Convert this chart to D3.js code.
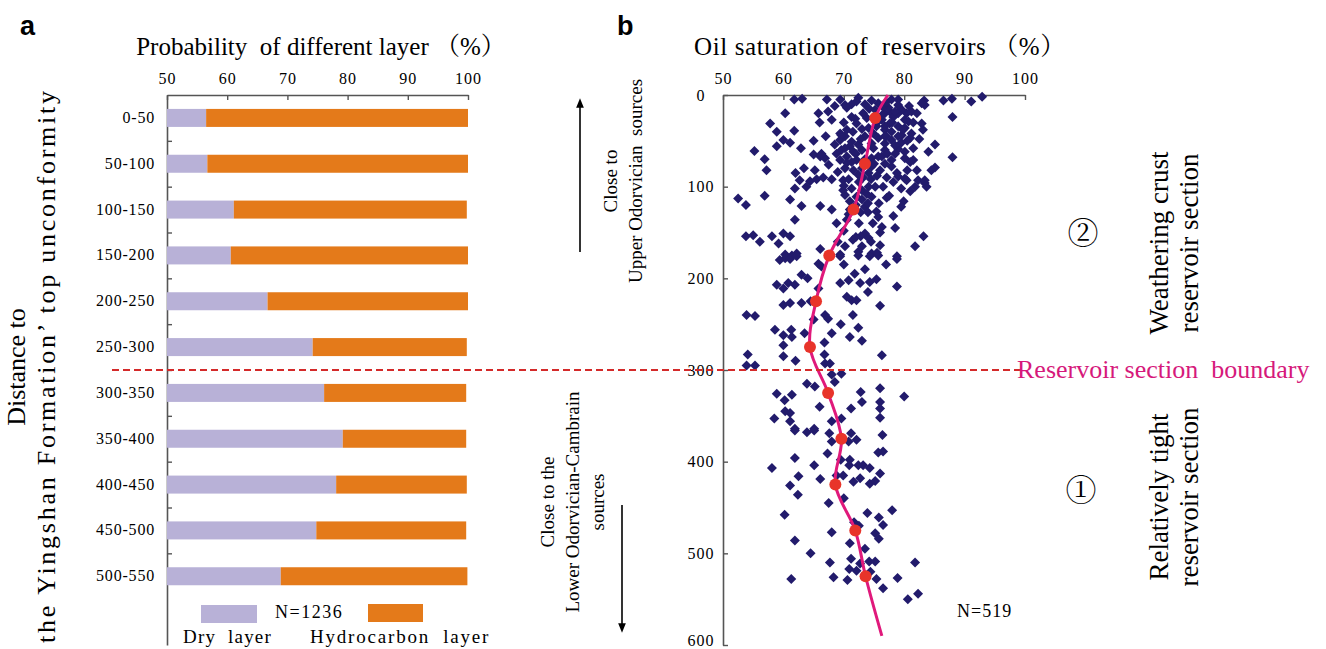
<html>
<head>
<meta charset="utf-8">
<title>Layer probability and oil saturation vs distance to unconformity</title>
<style>
  body { margin: 0; background: #fff; }
  text { font-family: 'Liberation Serif', 'Times New Roman', 'Noto Serif CJK SC', 'Noto Sans CJK SC', serif; white-space: pre; }
</style>
</head>
<body>
<script src="https://cdn.jsdelivr.net/npm/d3@7/dist/d3.min.js" charset="utf-8"></script>
<script>

// ---- panel a : dry / hydrocarbon layer probability per depth bin
var depthBins = ["0-50","50-100","100-150","150-200","200-250","250-300","300-350","350-400","400-450","450-500","500-550"];
var binMid    = [25,75,125,175,225,275,325,375,425,475,525];
var dryLayer  = [56.5,56.7,61.1,60.6,66.7,74.2,76.1,79.2,78.1,74.8,68.9];
var hcLayer   = [100,100,99.8,100,100,99.8,99.7,99.7,99.8,99.7,99.9];
var probTicks = [50,60,70,80,90,100];

// ---- panel b : oil saturation (%) vs depth (m)
var satTicks   = [50,60,70,80,90,100];
var depthTicks = [0,100,200,300,400,500,600];
var avgDepth = [25,75,125,175,225,275,325,375,425,475,525];
var avgSat   = [75.2,73.5,71.6,67.6,65.4,64.4,67.4,69.6,68.6,71.9,73.6];
var trendTop = [77.3,0];
var trendBottom = [76.3,590];

var satPoints = [
 [61.8,5],[63.1,4],[67.2,5],[69.4,5],[72.4,3],[74.6,6],[79.0,5],[83.3,6],[86.5,6],[87.9,4],[91.1,7],[92.9,2],
 [71.3,10],[73.5,10],[70.5,14],[83.4,11],[82.9,9],
 [60.3,20],[65.8,20],[67.4,18],[68.0,27],[76.8,20],[77.9,20],[79.0,20],[80.4,20],[81.2,18],[71.3,24],[88.0,24],
 [57.8,31],[71.9,26],[76.3,27],[77.6,31],[79.0,34],[76.8,34],[80.7,29],
 [58.9,40],[61.8,39],[73.0,37],[76.8,38],[80.1,36],[83.1,38],
 [60.0,49],[61.1,52],[65.0,50],[69.4,42],[70.2,45],[71.3,51],[72.4,54],[75.7,47],[77.9,49],[79.6,44],[81.0,47],[85.1,54],
 [55.2,61],[58.9,56],[62.9,58],[69.6,60],[71.6,62],[74.9,58],[76.8,60],[79.0,59],[80.1,62],
 [56.9,70],[65.0,65],[66.1,67],[66.9,69],[69.4,71],[72.1,71],[75.7,67],[77.9,71],[81.5,71],[88.0,68],
 [57.2,82],[62.0,85],[63.4,80],[70.2,80],[74.6,78],[76.0,82],[77.9,78],[82.1,82],[84.5,82],[85.1,79],
 [62.7,93],[64.4,94],[65.5,92],[66.6,90],[69.9,93],[73.2,90],[77.1,90],[79.0,89],[80.1,91],[82.3,93],[83.4,96],
 [61.9,102],[75.2,100],[81.8,100],[83.7,100],
 [52.5,113],[53.8,120],[56.9,110],[61.1,114],[70.2,109],[73.0,114],[74.6,111],[77.1,112],[79.9,116],
 [63.0,121],[66.1,121],[68.0,125],[73.5,122],[75.4,127],
 [61.9,136],[75.7,133],[78.2,132],[70.5,136],[76.3,144],[73.5,151],
 [53.8,154],[55.0,153],[56.1,160],[58.1,154],[59.2,162],[60.0,151],[61.1,154],[72.8,154],[74.1,156],[83.2,154],[76.0,164],[81.8,165],
 [66.1,168],[70.2,165],[72.4,171],[74.6,173],[60.3,174],[61.4,175],[62.2,173],[69.4,174],[78.8,176],[73.0,165],
 [70.2,11],[72.1,7],[75.7,9],[77.4,14],[79.6,16],[76.3,22],[78.2,24],[80.1,27],[75.4,34],[77.9,40],[79.0,45],[81.2,42],
 [73.5,45],[74.6,53],[76.8,53],[78.5,64],[76.3,67],[74.6,69],[71.3,73],[70.5,67],[74.1,85],[72.4,87],[71.6,82],
 [71.3,102],[69.9,104],[73.0,104],[72.1,111],[71.0,116],[74.1,100],[69.4,49],[68.5,54],[66.3,64],[80.1,69],[81.0,73],
 [80.4,93],[83.4,93],[82.9,31],[82.1,20],[77.9,5],[79.0,11],[76.5,13],[75.2,16],[73.2,20],[72.1,31],[74.1,36],[74.9,42],
 [70.5,38],[69.6,44],[78.0,30],[79.5,52],[77.0,45],[75.0,75],[73.0,60],[72.5,95],[70.8,92],[74.0,118],[72.8,128],
 [71.0,125],[76.5,100],[78.8,85],[80.5,50],[81.5,58],[77.2,64],[73.8,25],[71.0,56],[75.5,88],[70.0,99],[74.8,140],
 [68.5,12],[70.0,30],[71.5,40],[72.8,48],[74.2,15],[75.8,28],[76.8,45],[78.5,55],[79.8,38],[81.5,30],[80.8,12],
 [78.5,18],[77.0,8],[73.5,70],[72.0,64],[70.2,58],[68.8,64],[67.5,76],[69.0,84],[70.5,74],[73.0,80],[74.5,92],
 [76.8,75],[78.2,95],[79.5,102],[77.5,110],[75.8,118],[73.8,108],[72.0,120],[70.8,130],[72.5,140],[74.0,128],
 [76.0,150],[74.5,160],[71.5,158],[70.0,148],[68.8,140],[78.5,145],[80.5,82],[82.5,48],[84.0,62],[81.0,105],
 [79.5,122],[67.0,45],[66.0,30],[65.2,82],[63.8,100],[68.0,92],[72.0,155],[69.0,160],
 [59.4,180],[60.3,178],[61.1,179],[62.2,176],[65.8,184],[66.3,187],[69.4,176],[72.4,175],[74.3,176],[75.7,175],[78.8,179],
 [75.5,172],[77.0,185],[73.5,190],[71.8,195],[70.0,185],
 [63.0,196],[58.9,207],[60.0,211],[60.8,205],[61.9,207],[65.8,211],[69.4,205],[70.8,202],[72.7,205],[74.3,204],[75.4,201],[78.8,209],
 [60.0,229],[61.1,227],[63.0,227],[70.5,220],[71.3,224],[72.1,224],[76.0,230],[74.0,215],[64.0,200],[64.5,225],
 [53.9,240],[55.3,241],[66.9,240],[67.4,244],[71.5,240],[65.0,245],
 [58.6,256],[60.0,262],[61.3,256],[61.4,264],[68.0,260],[71.0,264],[72.4,254],[69.5,250],[63.5,260],
 [60.0,273],[54.1,283],[60.0,285],[66.8,283],[76.3,284],[73.0,268],[66.8,270],[62.0,290],
 [53.9,295],[55.3,295],[66.9,293],[67.7,293],[69.6,304],[68.0,305],[68.5,313],
 [63.9,315],[65.2,318],[58.9,326],[60.2,333],[61.4,327],[72.8,324],[76.0,320],[76.0,335],[76.0,342],[80.0,329],[71.2,342],[76.0,352],
 [60.3,345],[61.1,347],[58.5,353],[61.1,356],[68.0,356],[69.6,353],[61.9,364],[65.1,364],[66.0,340],[73.0,335],
 [61.9,366],[63.9,368],[65.1,366],[67.6,369],[68.0,378],[71.2,369],[72.1,376],[70.8,378],[76.4,371],[75.7,390],[76.5,389],
 [61.9,396],[67.3,391],[58.1,407],[65.1,404],[71.0,398],[70.9,404],[72.4,404],[73.2,404],[74.3,407],[76.0,413],[69.5,398],
 [62.5,416],[61.1,426],[66.1,419],[68.8,415],[69.9,415],[71.6,422],[72.7,418],[74.3,424],[75.2,421],[62.4,436],
 [70.0,440],[67.5,445],[60.2,458],[73.9,456],[75.8,461],[78.0,453],[76.5,469],[71.7,466],[72.5,470],
 [68.0,477],[75.2,478],[75.8,484],[61.9,486],[71.0,489],[73.5,495],[64.5,500],
 [67.7,510],[71.2,506],[72.7,511],[74.2,509],[75.2,509],[81.8,510],[70.9,517],[72.1,519],[74.4,520],
 [61.3,528],[68.3,526],[70.6,529],[75.4,528],[78.9,527],[76.5,538],[80.6,550],[82.3,544]
];

var width = 1326, height = 649;
var svg = d3.select("body").append("svg")
            .attr("width", width)
            .attr("height", height);

// shared depth scale (both panels line up on the 300 m boundary)
var yDepth = d3.scaleLinear().domain([0,600]).range([95,645]);

// ================= panel a =================
var xProb = d3.scaleLinear().domain([50,100]).range([167,468]);
var barH = 18;

var axA = svg.append("g").attr("transform","translate(0,95)")
             .call(d3.axisTop(xProb).tickValues(probTicks).tickSizeInner(-5).tickSizeOuter(0).tickPadding(11));
axA.selectAll("text").attr("font-size",16).attr("letter-spacing",1);

var ayA = svg.append("g").attr("transform","translate(167,0)")
             .call(d3.axisRight(yDepth).tickValues([50,100,150,200,250,300,350,400,450,500]).tickSize(5).tickSizeOuter(0).tickFormat(""));
[axA, ayA].forEach(function(g){
    g.select(".domain").attr("stroke","#555").attr("stroke-width",1.6);
    g.selectAll(".tick line").attr("stroke","#555").attr("stroke-width",1.4);
});

svg.selectAll(".dry").data(dryLayer).enter().append("rect")
   .attr("class","dry")
   .attr("x", xProb(50))
   .attr("y", function(d,i){ return yDepth(binMid[i]) - barH/2; })
   .attr("width", function(d){ return xProb(d) - xProb(50); })
   .attr("height", barH)
   .attr("fill","#b8b1d7");

svg.selectAll(".hc").data(hcLayer).enter().append("rect")
   .attr("class","hc")
   .attr("x", function(d,i){ return xProb(dryLayer[i]); })
   .attr("y", function(d,i){ return yDepth(binMid[i]) - barH/2; })
   .attr("width", function(d,i){ return xProb(d) - xProb(dryLayer[i]); })
   .attr("height", barH)
   .attr("fill","#e47a1a");

svg.selectAll(".binlab").data(depthBins).enter().append("text")
   .attr("class","binlab")
   .attr("x",155)
   .attr("y", function(d,i){ return yDepth(binMid[i]) + 5; })
   .attr("text-anchor","end")
   .attr("font-size",16)
   .attr("letter-spacing",0.8)
   .text(function(d){ return d; });

// legend
svg.append("rect").attr("x",201).attr("y",605).attr("width",56).attr("height",18).attr("fill","#b8b1d7");
svg.append("rect").attr("x",368).attr("y",604).attr("width",55).attr("height",18).attr("fill","#e47a1a");
svg.append("text").attr("x",275).attr("y",618).attr("font-size",18).attr("letter-spacing",1.5).text("N=1236");
svg.append("text").attr("x",183).attr("y",643).attr("font-size",19).attr("letter-spacing",1.2).text("Dry  layer");
svg.append("text").attr("x",310).attr("y",643).attr("font-size",19).attr("letter-spacing",1.8).text("Hydrocarbon  layer");

svg.append("text").attr("x",321).attr("y",55).attr("text-anchor","middle").attr("font-size",25)
   .text("Probability  of different layer （%）");

var ttlA = svg.append("text").attr("transform","translate(25,367) rotate(-90)")
              .attr("text-anchor","middle").attr("font-size",26);
ttlA.append("tspan").attr("x",0).attr("dy",0).text("Distance to");
ttlA.append("tspan").attr("x",0).attr("dy",30)
    .attr("textLength",552).attr("lengthAdjust","spacing")
    .text("the Yingshan Formation’ top unconformity");

svg.append("text").attr("x",20).attr("y",35).style("font-family","'Liberation Sans', Arial, sans-serif")
   .attr("font-weight","bold").attr("font-size",27).text("a");

// ================= middle annotations =================
svg.append("defs").append("marker").attr("id","ah").attr("viewBox","0 0 10 10")
   .attr("refX",5).attr("refY",5).attr("markerWidth",6).attr("markerHeight",8).attr("orient","auto")
   .append("path").attr("d","M0,1 L10,5 L0,9 Z").attr("fill","#000");
svg.append("line").attr("x1",580).attr("y1",252).attr("x2",580).attr("y2",103)
   .attr("stroke","#000").attr("stroke-width",1.6).attr("marker-end","url(#ah)");
svg.append("line").attr("x1",622).attr("y1",505).attr("x2",622).attr("y2",628)
   .attr("stroke","#000").attr("stroke-width",1.6).attr("marker-end","url(#ah)");

var upT = svg.append("text").attr("transform","translate(617,181) rotate(-90)")
             .attr("text-anchor","middle").attr("font-size",19);
upT.append("tspan").attr("x",0).attr("dy",0).text("Close to");
upT.append("tspan").attr("x",0).attr("dy",25).text("Upper Odorvician  sources");

var lowT = svg.append("text").attr("transform","translate(554,502) rotate(-90)")
              .attr("text-anchor","middle").attr("font-size",19);
lowT.append("tspan").attr("x",0).attr("dy",0).text("Close to the");
lowT.append("tspan").attr("x",0).attr("dy",25).text("Lower Odorvician-Cambrain");
lowT.append("tspan").attr("x",0).attr("dy",25).text("sources");

// ================= panel b =================
var xSat = d3.scaleLinear().domain([50,100]).range([723,1025]);

var axB = svg.append("g").attr("transform","translate(0,95)")
             .call(d3.axisTop(xSat).tickValues(satTicks).tickSizeInner(-5).tickSizeOuter(0).tickPadding(11));
axB.selectAll("text").attr("font-size",16).attr("letter-spacing",1);

var ayB = svg.append("g").attr("transform","translate(723,0)")
             .call(d3.axisLeft(yDepth).tickValues(depthTicks).tickSizeInner(-5).tickSizeOuter(0));
ayB.selectAll("text").attr("font-size",16).attr("letter-spacing",1)
   .attr("text-anchor","middle").attr("x",-22)
   .attr("dy", function(d){ return d === 600 ? "0.05em" : "0.32em"; });
[axB, ayB].forEach(function(g){
    g.select(".domain").attr("stroke","#555").attr("stroke-width",1.6);
    g.selectAll(".tick line").attr("stroke","#555").attr("stroke-width",1.4);
});

var diamond = d3.symbol().type(d3.symbolSquare).size(50);
svg.selectAll(".pt").data(satPoints).enter().append("path")
   .attr("class","pt")
   .attr("d", diamond)
   .attr("transform", function(d){ return "translate(" + xSat(d[0]) + "," + yDepth(d[1]) + ") rotate(45)"; })
   .attr("fill","#221b6c");

var trendPts = [trendTop].concat(avgSat.map(function(v,i){ return [v, avgDepth[i]]; }), [trendBottom]);
var trendLine = d3.line()
                  .x(function(d){ return xSat(d[0]); })
                  .y(function(d){ return yDepth(d[1]); })
                  .curve(d3.curveCatmullRom.alpha(0.5));
svg.append("path").datum(trendPts).attr("d", trendLine)
   .attr("fill","none").attr("stroke","#e0197b").attr("stroke-width",3);

svg.selectAll(".avg").data(avgSat).enter().append("circle")
   .attr("class","avg")
   .attr("cx", function(d){ return xSat(d); })
   .attr("cy", function(d,i){ return yDepth(avgDepth[i]); })
   .attr("r",6)
   .attr("fill","#e8342a");

svg.append("text").attr("x",957).attr("y",617).attr("font-size",18).attr("letter-spacing",1).text("N=519");

svg.append("text").attr("x",880).attr("y",55).attr("text-anchor","middle").attr("font-size",25)
   .attr("letter-spacing",0.6)
   .text("Oil saturation of  reservoirs （%）");

svg.append("text").attr("x",617).attr("y",35).style("font-family","'Liberation Sans', Arial, sans-serif")
   .attr("font-weight","bold").attr("font-size",27).text("b");

// boundary at 300 m
svg.append("line").attr("x1",112).attr("x2",1022)
   .attr("y1",yDepth(300)).attr("y2",yDepth(300))
   .attr("stroke","#d42a2a").attr("stroke-width",2).attr("stroke-dasharray","7,4");
svg.append("text").attr("x",1017).attr("y",yDepth(300)+8).attr("font-size",26).attr("fill","#d6197b")
   .text("Reservoir section  boundary");

// section labels
svg.append("text").attr("x",1083).attr("y",244).attr("text-anchor","middle").attr("font-size",31).text("②");
svg.append("text").attr("x",1081).attr("y",501).attr("text-anchor","middle").attr("font-size",31).text("①");

var sec2 = svg.append("text").attr("transform","translate(1168,243) rotate(-90)")
              .attr("text-anchor","middle").attr("font-size",27);
sec2.append("tspan").attr("x",0).attr("dy",0).text("Weathering crust");
sec2.append("tspan").attr("x",0).attr("dy",30).text("reservoir section");

var sec1 = svg.append("text").attr("transform","translate(1168,497) rotate(-90)")
              .attr("text-anchor","middle").attr("font-size",27);
sec1.append("tspan").attr("x",0).attr("dy",0).text("Relatively tight");
sec1.append("tspan").attr("x",0).attr("dy",30).text("reservoir section");

</script>
</body>
</html>
